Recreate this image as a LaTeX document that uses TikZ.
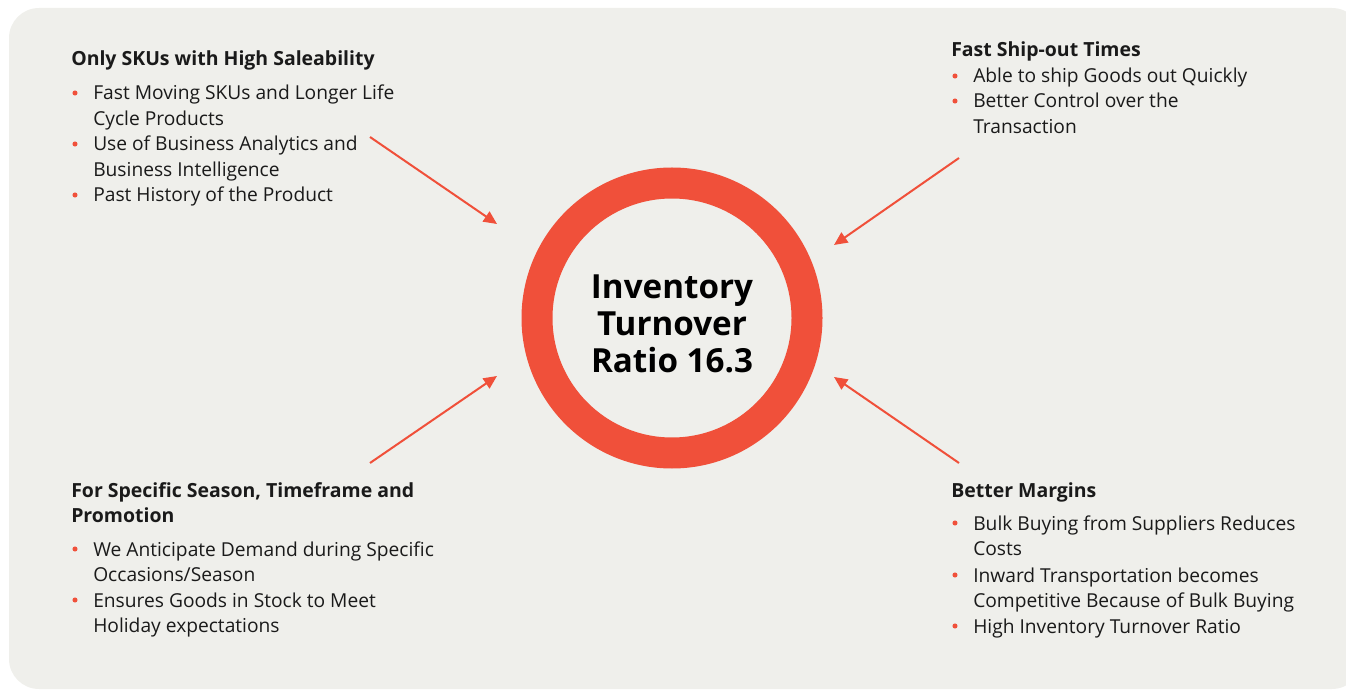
\documentclass[tikz,border=0pt]{standalone}
\usepackage{fontspec}
\setmainfont{Open Sans}
\usetikzlibrary{arrows.meta}

\definecolor{panelgrey}{RGB}{239,239,235}
\definecolor{ringred}{RGB}{240,80,58}
\definecolor{inkblack}{RGB}{26,26,26}

\tikzset{
  head/.style={anchor=base west, inner sep=0pt, align=left, text=inkblack,
    font=\bfseries\fontsize{14.6}{19.2}\selectfont},
  point/.style={anchor=base west, inner sep=0pt, align=left, text=inkblack,
    font=\fontsize{14.4}{19.2}\selectfont},
  dot/.style={circle, fill=ringred, inner sep=0pt, minimum size=3.8pt},
  ring/.style={circle, draw=ringred, line width=23.25pt, minimum size=202.5pt},
  feed/.style={draw=ringred, line width=1.5pt, -{Triangle[length=10pt,width=9pt]}}
}

\begin{document}
\begin{tikzpicture}[x=0.75pt, y=-0.75pt]
  % page and panel
  \useasboundingbox (0,0) rectangle (1346,691);
  \clip (0,0) rectangle (1346,691);
  \fill[panelgrey, rounded corners=22.5pt] (9,8) rectangle (1362,689);

  % centre ring
  \node[ring] (ratio) at (672,318) {};
  \node[align=center, text=black, font=\bfseries\fontsize{24.9}{27.7}\selectfont]
        (ratioText) at (672,324) {Inventory\\Turnover\\Ratio 16.3};

  % top left (base = last line)
  \node[head] (sku) at (71,66) {Only SKUs with High Saleability};
  \node[dot] (sku1b) at (75,93) {};
  \node[point] (sku1) at (93,125.6) {Fast Moving SKUs and Longer Life\\Cycle Products};
  \node[dot] (sku2b) at (75,144) {};
  \node[point] (sku2) at (93,176.6) {Use of Business Analytics and\\Business Intelligence};
  \node[dot] (sku3b) at (75,195) {};
  \node[point] (sku3) at (93,202) {Past History of the Product};

  % top right
  \node[head] (ship) at (951,57) {Fast Ship-out Times};
  \node[dot] (ship1b) at (955,76) {};
  \node[point] (ship1) at (973,83) {Able to ship Goods out Quickly};
  \node[dot] (ship2b) at (955,101) {};
  \node[point] (ship2) at (973,133.6) {Better Control over the\\Transaction};

  % bottom left
  \node[head] (season) at (71,522.6) {For Specific Season, Timeframe and\\Promotion};
  \node[dot] (season1b) at (75,549) {};
  \node[point] (season1) at (93,581.6) {We Anticipate Demand during Specific\\Occasions/Season};
  \node[dot] (season2b) at (75,600) {};
  \node[point] (season2) at (93,632.6) {Ensures Goods in Stock to Meet\\Holiday expectations};

  % bottom right
  \node[head] (margin) at (951,497) {Better Margins};
  \node[dot] (margin1b) at (955,523) {};
  \node[point] (margin1) at (973,555.6) {Bulk Buying from Suppliers Reduces\\Costs};
  \node[dot] (margin2b) at (955,575) {};
  \node[point] (margin2) at (973,607.6) {Inward Transportation becomes\\Competitive Because of Bulk Buying};
  \node[dot] (margin3b) at (955,626) {};
  \node[point] (margin3) at (973,633) {High Inventory Turnover Ratio};

  % arrows into the ring
  \coordinate (skuTail) at (370,137);    \coordinate (skuTip) at (497,224);
  \coordinate (shipTail) at (959,158);   \coordinate (shipTip) at (834,245);
  \coordinate (seasonTail) at (370,463); \coordinate (seasonTip) at (497,376);
  \coordinate (marginTail) at (959,463); \coordinate (marginTip) at (834,377);
  \draw[feed] (skuTail) -- (skuTip);
  \draw[feed] (shipTail) -- (shipTip);
  \draw[feed] (seasonTail) -- (seasonTip);
  \draw[feed] (marginTail) -- (marginTip);
\end{tikzpicture}
\end{document}
